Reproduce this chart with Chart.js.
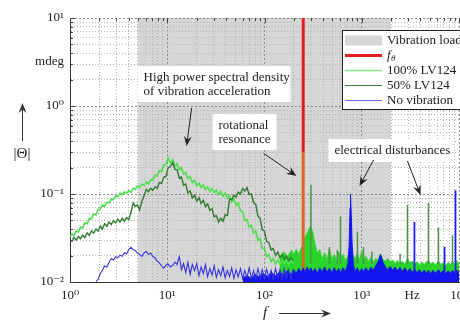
<!DOCTYPE html>
<html lang="en">
<head>
<meta charset="UTF-8">
<title>|Θ| spectrum</title>
<script src="https://cdn.jsdelivr.net/npm/chart.js@4.4.1/dist/chart.umd.min.js"></script>
<style>
  body { margin: 0; background: #fff; }
  #wrap { width: 460px; height: 321px; }
</style>
</head>
<body>
<div id="wrap"><canvas id="spectrum" width="460" height="321"></canvas></div>
<script>
// ---- low frequency part (lines) ----
const freqLow = [
  1, 1.05, 1.1, 1.16, 1.22, 1.28, 1.35, 1.42, 1.5, 1.58,
  1.66, 1.75, 1.85, 1.95, 2.05, 2.15, 2.27, 2.4, 2.52, 2.66,
  2.8, 2.95, 3.1, 3.27, 3.45, 3.63, 3.82, 4.03, 4.24, 4.47,
  4.7, 4.95, 5.2, 5.5, 5.8, 6.1, 6.4, 6.75, 7.1, 7.5,
  7.9, 8.3, 8.75, 9.2, 9.7, 10.2, 10.8, 11.4, 12, 12.6,
  13.3, 14, 14.7, 15.5, 16.3, 17.2, 18.1, 19.1, 20.1, 21.2,
  22.3, 23.5, 24.7, 26, 27.4, 28.9, 30.4, 32, 33.7, 35.5,
  37.4, 39.4, 41.5, 43.7, 46, 48.4, 51, 53.7, 56.6, 59.6,
  62.7, 66, 69.6, 73.3, 77.2, 81.3, 85.6, 90.1, 94.9, 100,
  105, 111, 117, 123, 130, 137, 144, 152, 160, 168,
  177, 187, 197
];
const lv100 = [
  0.033, 0.035, 0.034, 0.038, 0.037, 0.042, 0.041, 0.047, 0.046, 0.053,
  0.052, 0.059, 0.058, 0.067, 0.068, 0.075, 0.073, 0.081, 0.079, 0.088,
  0.086, 0.095, 0.093, 0.102, 0.098, 0.106, 0.102, 0.110, 0.104, 0.116,
  0.113, 0.123, 0.119, 0.13, 0.126, 0.137, 0.13, 0.145, 0.142, 0.163,
  0.16, 0.185, 0.18, 0.215, 0.215, 0.26, 0.225, 0.245, 0.205, 0.222,
  0.188, 0.2, 0.168, 0.176, 0.15, 0.158, 0.135, 0.142, 0.124, 0.133,
  0.118, 0.127, 0.112, 0.121, 0.107, 0.115, 0.103, 0.111, 0.099, 0.107,
  0.094, 0.102, 0.089, 0.096, 0.082, 0.088, 0.074, 0.079, 0.064, 0.063,
  0.05, 0.051, 0.042, 0.044, 0.036, 0.038, 0.03, 0.031, 0.024, 0.024,
  0.0195, 0.0205, 0.017, 0.0185, 0.016, 0.018, 0.016, 0.0178, 0.0162, 0.018,
  0.016, 0.0175, 0.016
];
const lv50 = [
  0.030, 0.029, 0.032, 0.030, 0.033, 0.031, 0.034, 0.032, 0.036, 0.034,
  0.038, 0.036, 0.040, 0.038, 0.043, 0.040, 0.046, 0.043, 0.048, 0.045,
  0.050, 0.047, 0.052, 0.048, 0.053, 0.049, 0.054, 0.051, 0.062, 0.079,
  0.072, 0.075, 0.066, 0.083, 0.097, 0.113, 0.106, 0.116, 0.11, 0.121,
  0.116, 0.135, 0.132, 0.155, 0.158, 0.198, 0.205, 0.228, 0.19, 0.188,
  0.152, 0.156, 0.126, 0.13, 0.103, 0.108, 0.09, 0.097, 0.083, 0.091,
  0.078, 0.085, 0.072, 0.077, 0.065, 0.068, 0.055, 0.057, 0.048, 0.053,
  0.049, 0.058, 0.057, 0.088, 0.086, 0.097, 0.092, 0.105, 0.1, 0.115,
  0.108, 0.118, 0.099, 0.1, 0.08, 0.076, 0.056, 0.053, 0.039, 0.038,
  0.029, 0.028, 0.023, 0.024, 0.02, 0.022, 0.019, 0.0205, 0.018, 0.0195,
  0.0175, 0.019, 0.0175
];
const noVib = [
  null, null, null, null, null, null, null, null, null, null,
  null, null, 0.0101, 0.0108, 0.0125, 0.0135, 0.0152, 0.0148, 0.0168, 0.0185,
  0.0178, 0.0195, 0.0188, 0.0202, 0.0196, 0.0215, 0.0208, 0.0235, 0.0248, 0.0232,
  0.0228, 0.0212, 0.0205, 0.0195, 0.0215, 0.0222, 0.0205, 0.0214, 0.0196, 0.0188,
  0.0172, 0.0165, 0.0152, 0.0143, 0.0155, 0.016, 0.0148, 0.0155, 0.0168, 0.0158,
  0.0195, 0.0138, 0.0162, 0.0128, 0.0168, 0.0122, 0.0158, 0.0135, 0.0162, 0.0118,
  0.0148, 0.0125, 0.0158, 0.0115, 0.0142, 0.012, 0.0152, 0.0113, 0.0138, 0.0118,
  0.0148, 0.0112, 0.0135, 0.0116, 0.0145, 0.011, 0.0138, 0.0114, 0.0142, 0.0109,
  0.0136, 0.0112, 0.0145, 0.011, 0.0135, 0.0108, 0.0142, 0.0111, 0.0138, 0.0109,
  0.014, 0.0112, 0.0136, 0.0108, 0.0142, 0.011, 0.0138, 0.0109, 0.0141, 0.011,
  0.0137, 0.0108, 0.014
];

// ---- high frequency noise floor (upper envelope, filled down) ----
const noiseF = [
  60, 66, 73, 80, 88, 97, 107, 118, 130, 143,
  157, 173, 190, 200, 212, 225, 238, 250, 262, 275,
  290, 300, 315, 330, 350, 370, 390, 415, 440, 465,
  490, 520, 550, 580, 605, 640, 680, 720, 740, 758,
  766, 776, 795, 820, 850, 900, 950, 1000, 1040, 1100,
  1170, 1240, 1310, 1390, 1470, 1560, 1650, 1750, 1850, 1960,
  2080, 2200, 2330, 2470, 2620, 2780, 2950, 3120, 3300, 3500,
  3700, 3920, 4150, 4400, 4660, 4850, 5100, 5400, 5720, 6150,
  6500, 6900, 7300, 7750, 8200, 8570, 9000, 9500, 10000
];
const greenNoise = [
  null, null, null, null, null, null, null, null, null, 0.019,
  0.022, 0.0195, 0.023, 0.02, 0.0235, 0.0205, 0.024, 0.027, 0.032, 0.036,
  0.041, 0.043, 0.036, 0.027, 0.021, 0.0235, 0.018, 0.0215, 0.0175, 0.024,
  0.018, 0.0205, 0.0175, 0.022, 0.019, 0.0205, 0.0175, 0.0195, 0.018, 0.0195,
  0.018, 0.02, 0.0178, 0.02, 0.018, 0.021, 0.0175, 0.0225, 0.018, 0.0195,
  0.017, 0.019, 0.0168, 0.0185, 0.0175, 0.021, 0.018, 0.0172, 0.0185, 0.0168,
  0.0178, 0.0162, 0.0175, 0.016, 0.0172, 0.0158, 0.0185, 0.0165, 0.0172, 0.0158,
  0.017, 0.0155, 0.0168, 0.0158, 0.017, 0.0175, 0.016, 0.0168, 0.0155, 0.0172,
  0.0158, 0.0165, 0.0152, 0.0168, 0.0156, 0.0172, 0.0158, 0.0175, 0.016
];
const blueNoise = [
  0.0112, 0.0118, 0.011, 0.0122, 0.0114, 0.0125, 0.0116, 0.0128, 0.0118, 0.013,
  0.012, 0.0135, 0.0122, 0.0138, 0.0125, 0.0142, 0.0128, 0.0145, 0.013, 0.0148,
  0.0132, 0.0145, 0.0128, 0.0142, 0.0126, 0.0145, 0.013, 0.0148, 0.0128, 0.0144,
  0.0127, 0.0146, 0.013, 0.0142, 0.0126, 0.0145, 0.0132, 0.016, 0.025, 0.07,
  0.1, 0.07, 0.028, 0.016, 0.0132, 0.0145, 0.0128, 0.0142, 0.013, 0.0145,
  0.0132, 0.0148, 0.0135, 0.0152, 0.017, 0.0205, 0.0168, 0.0148, 0.0138, 0.015,
  0.0136, 0.0148, 0.0134, 0.0146, 0.0132, 0.0145, 0.013, 0.0142, 0.0128, 0.014,
  0.0127, 0.0138, 0.0126, 0.0137, 0.0125, 0.0136, 0.0124, 0.0135, 0.0126, 0.0138,
  0.0125, 0.0136, 0.0124, 0.0134, 0.0125, 0.0136, 0.0126, 0.0137, 0.0128
];

// ---- narrow peaks ----
const greenSpikeF = [300, 605, 903, 1040, 2950, 4850, 6150, 8570, 465, 560, 1270, 2480];
const greenSpikeV = [0.127, 0.055, 0.037, 0.025, 0.075, 0.079, 0.042, 0.034, 0.025, 0.023, 0.022, 0.021];
const greenSpikeBase = 0.016;
const blueSpikeF = [3480, 7100, 9200];
const blueSpikeV = [0.048, 0.025, 0.11];
const blueSpikeBase = 0.0125;

const fTheta = 250;          // Hz
const resonanceTop = 0.3;    // where the f_theta line is overlaid by the 100% curve
const loadBand = [5, 2000];  // Hz, shaded "Vibration load"

// ---- axes ----
const xMajor = [1, 10, 100, 1000, 10000];
const xLabels = ['10⁰', '10¹', '10²', '10³', '10⁴'];
const yMajor = [0.01, 0.1, 1, 10];
const yLabels = ['10⁻²', '10⁻¹', '10⁰', '10¹'];
const xUnit = { value: 3300, label: 'Hz' };
const yUnit = { value: 3.16, label: 'mdeg' };

const legendItems = [
  { label: 'Vibration load', kind: 'box', color: '#d6d6d6' },
  { label: 'f', sub: 'θ', kind: 'line', color: '#e41a1c', width: 3 },
  { label: '100% LV124', kind: 'line', color: '#86e886', width: 1.6 },
  { label: '50% LV124', kind: 'line', color: '#3a7d3a', width: 1 },
  { label: 'No vibration', kind: 'line', color: '#6f6fe8', width: 1 }
];

const notes = [
  { lines: ['High power spectral density', 'of vibration acceleration'],
    box: [4.95, 185, 2.85, 1.11], arrows: [[17.8, 0.95, 15.8, 0.35]] },
  { lines: ['rotational', 'resonance'],
    box: [29.2, 133, 0.81, 0.316], arrows: [[97.7, 0.29, 213, 0.16]] },
  { lines: ['electrical disturbances'],
    box: [455, 8570, 0.422, 0.231], arrows: [[1321, 0.243, 948, 0.123], [2953, 0.237, 4018, 0.0973]] }
];

const SERIF = '"Liberation Serif", "DejaVu Serif", serif';

function pts(xs, ys) {
  return xs.map((x, i) => ({ x: x, y: ys[i] }));
}
function spikes(fs, vs, base) {
  const out = [];
  fs.forEach((f, i) => {
    out.push({ x: f, y: base }, { x: f, y: vs[i] }, { x: f, y: null });
  });
  return out;
}
function logTicks(majors, unit) {
  const out = [];
  for (let i = 0; i < majors.length; i++) {
    out.push({ value: majors[i], major: true });
    if (i < majors.length - 1) {
      for (let k = 2; k <= 9; k++) out.push({ value: majors[i] * k });
    }
  }
  out.push({ value: unit.value, unit: true });
  return out.sort((a, b) => a.value - b.value);
}
function tickLabel(majors, labels, unit) {
  return (value, index, ticks) => {
    const t = ticks[index];
    if (t && t.unit) return unit.label;
    const m = majors.indexOf(value);
    return m >= 0 ? labels[m] : '';
  };
}
const gridColor = ctx => {
  const t = ctx.tick;
  if (!t || t.unit) return 'rgba(0,0,0,0)';
  return t.major ? '#8a8a8a' : '#b4b4b4';
};
const gridDash = ctx => (ctx.tick && ctx.tick.major) ? [2, 2] : [1, 2];

function arrow(ctx, x1, y1, x2, y2) {
  const ang = Math.atan2(y2 - y1, x2 - x1);
  ctx.beginPath();
  ctx.moveTo(x1, y1);
  ctx.lineTo(x2 - Math.cos(ang) * 5, y2 - Math.sin(ang) * 5);
  ctx.stroke();
  ctx.save();
  ctx.translate(x2, y2);
  ctx.rotate(ang);
  ctx.beginPath();
  ctx.moveTo(0, 0);
  ctx.lineTo(-10, -4);
  ctx.lineTo(-6.5, 0);
  ctx.lineTo(-10, 4);
  ctx.closePath();
  ctx.fill();
  ctx.restore();
}

const shadePlugin = {
  id: 'shade',
  beforeDraw(chart) {
    const { ctx, chartArea: a, scales: { x } } = chart;
    const x0 = x.getPixelForValue(loadBand[0]);
    const x1 = x.getPixelForValue(loadBand[1]);
    ctx.save();
    ctx.fillStyle = '#ffffff';
    ctx.fillRect(0, 0, chart.width, chart.height);
    ctx.fillStyle = legendItems[0].color;
    ctx.fillRect(x0, a.top, x1 - x0, a.bottom - a.top);
    ctx.restore();
  }
};

const decorPlugin = {
  id: 'decor',
  afterDraw(chart) {
    const { ctx, chartArea: a, scales: { x, y } } = chart;
    ctx.save();

    // inner tick marks on left and top frame
    ctx.strokeStyle = '#444';
    ctx.lineWidth = 1;
    y.ticks.forEach(t => {
      if (t.unit) return;
      const py = Math.round(y.getPixelForValue(t.value)) + 0.5;
      ctx.beginPath(); ctx.moveTo(a.left, py); ctx.lineTo(a.left + (t.major ? 5 : 3), py); ctx.stroke();
    });
    x.ticks.forEach(t => {
      if (t.unit) return;
      const px = Math.round(x.getPixelForValue(t.value)) + 0.5;
      ctx.beginPath(); ctx.moveTo(px, a.top); ctx.lineTo(px, a.top + (t.major ? 5 : 3)); ctx.stroke();
    });

    // annotation boxes and arrows
    ctx.font = '13px ' + SERIF;
    ctx.textBaseline = 'middle';
    ctx.textAlign = 'left';
    notes.forEach(n => {
      const bx0 = x.getPixelForValue(n.box[0]), bx1 = x.getPixelForValue(n.box[1]);
      const by0 = y.getPixelForValue(n.box[2]), by1 = y.getPixelForValue(n.box[3]);
      ctx.fillStyle = '#ffffff';
      ctx.fillRect(bx0, by0, bx1 - bx0, by1 - by0);
      ctx.fillStyle = '#1a1a1a';
      const h = by1 - by0, step = 14;
      const first = by0 + h / 2 - (n.lines.length - 1) * step / 2;
      n.lines.forEach((ln, i) => ctx.fillText(ln, bx0 + 6, first + i * step + 0.5));
      ctx.strokeStyle = '#222';
      ctx.fillStyle = '#222';
      ctx.lineWidth = 1;
      n.arrows.forEach(ar => arrow(ctx,
        x.getPixelForValue(ar[0]), y.getPixelForValue(ar[1]),
        x.getPixelForValue(ar[2]), y.getPixelForValue(ar[3])));
    });

    // legend
    const lx = a.right - 117, ly = a.top + 12;
    ctx.fillStyle = '#ffffff';
    ctx.fillRect(lx, ly, 130, 80);
    ctx.strokeStyle = '#222';
    ctx.lineWidth = 1;
    ctx.strokeRect(lx + 0.5, ly + 0.5, 130, 79);
    legendItems.forEach((it, i) => {
      const cy = ly + 10.5 + i * 15;
      if (it.kind === 'box') {
        ctx.fillStyle = it.color;
        ctx.fillRect(lx + 3, cy - 5, 37, 10);
      } else {
        ctx.strokeStyle = it.color;
        ctx.lineWidth = it.width;
        ctx.beginPath(); ctx.moveTo(lx + 3, cy); ctx.lineTo(lx + 40, cy); ctx.stroke();
      }
      ctx.fillStyle = '#1a1a1a';
      if (it.sub) {
        ctx.font = 'italic 13px ' + SERIF;
        ctx.fillText(it.label, lx + 45, cy);
        const w = ctx.measureText(it.label).width;
        ctx.font = 'italic 9px ' + SERIF;
        ctx.fillText(it.sub, lx + 45 + w + 0.5, cy + 3);
      } else {
        ctx.font = '13px ' + SERIF;
        ctx.fillText(it.label, lx + 45, cy);
      }
    });

    // axis titles
    ctx.strokeStyle = '#333';
    ctx.fillStyle = '#333';
    ctx.lineWidth = 1;
    arrow(ctx, 22.5, 141, 22.5, 103);
    ctx.fillStyle = '#1a1a1a';
    ctx.textAlign = 'center';
    ctx.font = '15px ' + SERIF;
    ctx.fillText('|Θ|', 22, 154);
    ctx.font = 'italic 15px ' + SERIF;
    ctx.fillText('f', 265, 313);
    ctx.fillStyle = '#333';
    arrow(ctx, 279, 313.5, 331, 313.5);
    ctx.restore();
  }
};

const datasets = [
  { label: 'No vibration (peaks)', data: spikes(blueSpikeF, blueSpikeV, blueSpikeBase),
    borderColor: '#1f1fee', borderWidth: 1.8, order: 0 },
  { label: 'No vibration', data: pts(freqLow, noVib),
    borderColor: '#3434dc', borderWidth: 1.1, order: 1 },
  { label: 'No vibration (floor)', data: pts(noiseF, blueNoise),
    borderColor: '#1414f0', backgroundColor: '#1414f0', borderWidth: 1, fill: 'start', order: 2 },
  { label: 'f_theta', data: [{ x: fTheta, y: 10 }, { x: fTheta, y: resonanceTop }, { x: fTheta, y: 0.01 }],
    borderColor: '#e41a1c', borderWidth: 3, order: 3,
    segment: { borderColor: c => c.p0DataIndex === 0 ? '#e41a1c' : '#d8691f' } },
  { label: 'LV124 peaks', data: spikes(greenSpikeF, greenSpikeV, greenSpikeBase),
    borderColor: '#4a944a', borderWidth: 1.5, order: 4 },
  { label: '50% LV124', data: pts(freqLow, lv50),
    borderColor: '#2f7a2f', borderWidth: 1.4, order: 5 },
  { label: '100% LV124', data: pts(freqLow, lv100),
    borderColor: '#4fde4f', borderWidth: 1.6, order: 6 },
  { label: '100% LV124 (floor)', data: pts(noiseF, greenNoise),
    borderColor: '#2ad42a', backgroundColor: '#2ad42a', borderWidth: 1, fill: 'start', order: 7 }
];

new Chart(document.getElementById('spectrum').getContext('2d'), {
  type: 'line',
  data: { datasets: datasets },
  plugins: [shadePlugin, decorPlugin],
  options: {
    responsive: false,
    animation: false,
    elements: { point: { radius: 0, hoverRadius: 0 }, line: { tension: 0 } },
    layout: { padding: { top: 18, right: 1, left: 0, bottom: 0 } },
    plugins: { legend: { display: false }, tooltip: { enabled: false } },
    scales: {
      x: {
        type: 'logarithmic', min: 1, max: 10000,
        afterBuildTicks: s => { s.ticks = logTicks(xMajor, xUnit); },
        afterFit: s => { s.height = 39; s.paddingLeft = 0; s.paddingRight = 0; },
        ticks: {
          autoSkip: false, maxRotation: 0, minRotation: 0, padding: 6, color: '#222',
          font: { family: SERIF, size: 13 },
          callback: tickLabel(xMajor, xLabels, xUnit)
        },
        grid: { color: gridColor, drawTicks: false, lineWidth: 1 },
        border: { color: '#333', width: 1, dash: gridDash }
      },
      y: {
        type: 'logarithmic', min: 0.01, max: 10,
        afterBuildTicks: s => { s.ticks = logTicks(yMajor, yUnit); },
        afterFit: s => { s.width = 70; s.paddingTop = 0; s.paddingBottom = 0; },
        ticks: {
          autoSkip: false, padding: 6, color: '#222',
          font: { family: SERIF, size: 13 },
          callback: tickLabel(yMajor, yLabels, yUnit)
        },
        grid: { color: gridColor, drawTicks: false, lineWidth: 1 },
        border: { color: '#333', width: 1, dash: gridDash }
      }
    }
  }
});
</script>
</body>
</html>
